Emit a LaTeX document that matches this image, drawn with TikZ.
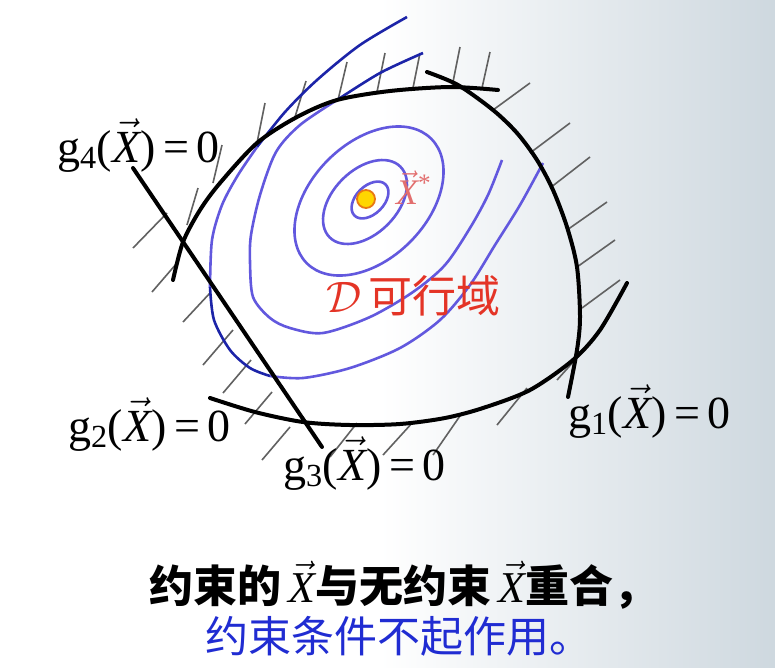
\RequirePackage{fix-cm}
\documentclass[tikz,border=0pt]{standalone}
\usepackage{fontspec}
\setmainfont{Liberation Serif}
\newfontfamily\cjk{Noto Sans CJK SC}
\usepackage{xcolor}
\usetikzlibrary{positioning}
\definecolor{bgright}{RGB}{206,216,223}
\definecolor{contour}{RGB}{98,88,222}
\definecolor{contourdark}{RGB}{28,36,168}
\definecolor{feasred}{RGB}{228,52,38}
\definecolor{starred}{RGB}{226,110,110}
\definecolor{noteblue}{RGB}{32,44,210}
\definecolor{optyellow}{RGB}{255,214,0}
\definecolor{optorange}{RGB}{232,120,20}
\newcommand{\vecX}{$\vec{\hbox{\itshape X}}$}
\newcommand{\glabel}[1]{g\textsubscript{#1}(\vecX)\,=\,0}

\begin{document}
\begin{tikzpicture}[x=1pt,y=-1pt,
    bound/.style={line width=4pt,line cap=round},
    hatchline/.style={draw=black!62,line width=1.6pt},
    contourline/.style={draw=contour,line width=2.6pt},
    contourout/.style={draw=contourdark,line width=2.6pt},
    glbl/.style={font=\fontsize{46}{50}\selectfont,anchor=base west,inner sep=0pt}]
  \fill[white] (0,0) rectangle (775,667);
  \shade[left color=white,right color=bgright] (380,0) rectangle (775,667);
  \useasboundingbox (0,0) rectangle (775,667);

  \foreach \xa/\ya/\xb/\yb in {187/225/198/188, 213/183/222/145, 257/143/265/103,
      295/117/306/81, 338/100/347/62, 377/92/385/53, 413/88/420/53, 452/87/460/47,
      482/88/490/52, 493/110/530/83, 530/153/570/123, 550/188/590/157,
      567/230/607/202, 577/267/615/240, 582/308/620/280, 133/248/167/213,
      152/292/177/263, 183/322/210/293, 203/365/233/330, 223/393/251/360,
      245/424/272/392, 262/460/290/427, 330/457/357/423, 383/455/413/422,
      433/455/462/413, 497/425/527/388, 557/380/575/360}
    \draw[hatchline] (\xa,\ya) -- (\xb,\yb);

  \draw[contourline] (370,200) ellipse [x radius=22pt,y radius=14pt,rotate=45];
  \draw[contourline] (365,202) ellipse [x radius=50pt,y radius=32pt,rotate=45];
  \draw[contourline] (369,201) ellipse [x radius=88pt,y radius=58pt,rotate=45];
  \draw[contourout] plot[smooth] coordinates {(423,53) (380,73) (337,100)};
  \draw[contourline] plot[smooth] coordinates {(337,100) (300,125) (276,152)
      (260,195) (251,235) (250,262) (253,297) (270,318) (290,328) (323,333)
      (370,317) (413,292) (445,265) (470,228) (488,195) (502,160)};
  \draw[contourout] plot[smooth] coordinates {(407,17) (360,45) (317,80)
      (285,112) (257,147)};
  \draw[contourline] plot[smooth] coordinates {(257,147) (238,175) (222,205)
      (212,240) (210,287)};
  \draw[contourout] plot[smooth] coordinates {(210,287) (214,320) (230,350)
      (250,368) (270,376)};
  \draw[contourline] plot[smooth] coordinates {(270,376) (303,378) (350,368)
      (400,348) (440,320) (470,285) (495,245) (520,205) (543,163)};

  \draw[bound] plot[smooth] coordinates {(173,280) (183,242) (200,210) (220,183)
      (257,143) (297,117) (337,100) (390,91) (450,87) (498,90)};
  \draw[bound] plot[smooth] coordinates {(427,72) (458,85) (493,110) (517,133)
      (537,160) (553,190) (567,227) (577,267) (580,317) (577,350) (568,397)};
  \draw[bound] plot[smooth] coordinates {(210,398) (255,412) (303,422) (350,425)
      (400,424) (445,418) (483,408) (530,390) (573,360) (600,330) (627,283)};
  \draw[bound] (133,168) -- (322,447);

  \node[circle,fill=optyellow,draw=optorange,line width=1.8pt,minimum size=18pt,
      inner sep=0pt] (xopt) at (366,199) {};
  \node[text=starred,font=\fontsize{36}{40}\selectfont,inner sep=0pt] (xstar)
      [right=20pt of xopt,yshift=11pt] {\vecX\textsuperscript{*}};
  \node[text=feasred,font=\fontsize{44}{48}\selectfont,anchor=base west,
      inner sep=0pt] (feas) at (326,312) {$\mathcal{D}$\,{\cjk 可行域}};

  \node[glbl] (g4) at (57,162) {\glabel{4}};
  \node[glbl] (g2) at (68,441) {\glabel{2}};
  \node[glbl] (g3) at (283,480) {\glabel{3}};
  \node[glbl] (g1) at (568,428) {\glabel{1}};

  \node[font=\cjk\bfseries\fontsize{44}{48}\selectfont,anchor=base west,
      inner sep=0pt] (note1) at (149,602)
      {约束的\,{\mdseries\rmfamily\vecX}与无约束\,{\mdseries\rmfamily\vecX}重合，};
  \node[font=\cjk\fontsize{43}{48}\selectfont,text=noteblue,anchor=base west,
      inner sep=0pt] (note2) at (205,652) {约束条件不起作用。};
\end{tikzpicture}
\end{document}
